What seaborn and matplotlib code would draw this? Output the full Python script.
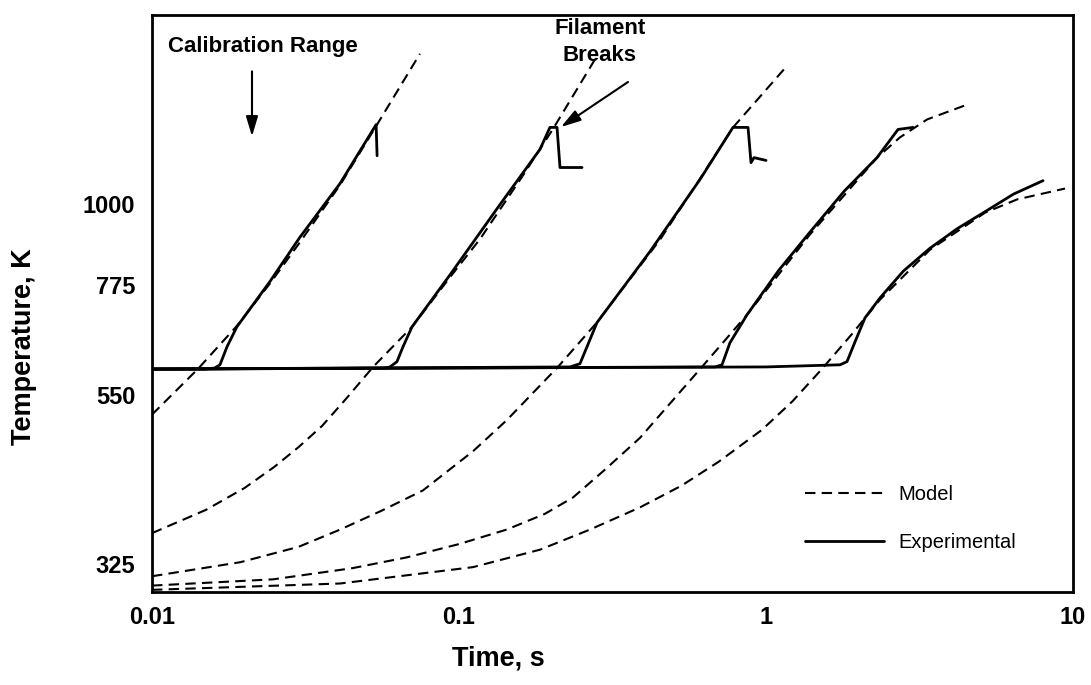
import numpy as np
import pandas as pd
import matplotlib
matplotlib.use("Agg")
import matplotlib.pyplot as plt
import seaborn as sns
from matplotlib.lines import Line2D
from matplotlib.ticker import FixedLocator, NullLocator, FixedFormatter

# ---------------- data ----------------
x_ticks = [0.01, 0.1, 1, 10]
x_tick_labels = ["0.01", "0.1", "1", "10"]
x_minor = [0.025, 0.04, 0.055, 0.07, 0.085, 0.25, 0.4, 0.55, 0.7, 0.85,
           2.5, 4, 5.5, 7, 8.5]
y_ticks = [325, 550, 775, 1000]
y_tick_labels = ["325", "550", "775", "1000"]

model1_t = [0.0100, 0.0141, 0.0189, 0.0242, 0.0303, 0.0410, 0.0537, 0.0746]
model1_T = [518, 597, 683, 779, 886, 1060, 1273, 1595]

model2_t = [0.0100, 0.0150, 0.0200, 0.0250, 0.0300, 0.0358, 0.0430, 0.0525,
            0.0703, 0.0935, 0.117, 0.160, 0.2024, 0.2836]
model2_T = [358, 385, 412, 440, 468, 500, 545, 601, 681, 795, 895, 1085, 1262, 1592]

model3_t = [0.0100, 0.0194, 0.0300, 0.0410, 0.0560, 0.0763, 0.111, 0.143, 0.210,
            0.281, 0.452, 0.600, 0.781, 1.153]
model3_T = [313, 327, 343, 362, 384, 409, 462, 509, 601, 690, 894, 1070, 1268, 1525]

model4_t = [0.0100, 0.0248, 0.0450, 0.0677, 0.100, 0.143, 0.190, 0.235, 0.300, 0.389,
            0.490, 0.610, 0.867, 1.39, 2.30, 2.73, 3.35, 4.45]
model4_T = [304, 310, 321, 332, 346, 362, 380, 400, 437, 482, 538, 597, 707, 908,
            1154, 1229, 1300, 1358]

model5_t = [0.0100, 0.0410, 0.111, 0.1835, 0.267, 0.389, 0.530, 0.70, 0.97, 1.22,
            1.52, 1.90, 2.35, 3.42, 5.17, 6.57, 9.42]
model5_T = [300, 306, 322, 340, 362, 388, 415, 447, 494, 540, 597, 665, 741, 866,
            972, 1013, 1048]

exp1_t = [0.0100, 0.0149, 0.0160, 0.01665, 0.01755, 0.0189, 0.0242, 0.0303, 0.0410,
          0.0537, 0.0541]
exp1_T = [597, 597, 599, 605, 640, 681, 784, 900, 1065, 1279, 1161]

exp2_t = [0.0100, 0.0574, 0.0596, 0.0628, 0.0657, 0.0703, 0.0935, 0.136, 0.1835,
          0.1978, 0.2086, 0.2133, 0.2516]
exp2_T = [597, 599, 601, 611, 640, 681, 801, 997, 1184, 1268, 1268, 1119, 1119]

exp3_t = [0.0100, 0.230, 0.2477, 0.2612, 0.2814, 0.4188, 0.6096, 0.7806, 0.8739,
          0.8936, 0.9139, 1.000]
exp3_T = [597, 601, 607, 640, 690, 861, 1078, 1268, 1268, 1136, 1154, 1144]

exp4_t = [0.0100, 0.6823, 0.719, 0.763, 0.867, 1.100, 1.391, 1.800, 2.299, 2.692, 3.012]
exp4_T = [597, 601, 605, 648, 707, 812, 915, 1040, 1154, 1260, 1268]

exp5_t = [0.0100, 0.100, 1.000, 1.742, 1.836, 1.95, 2.10, 2.35, 2.80, 3.42, 4.20,
          5.17, 6.40, 7.985]
exp5_T = [597, 599, 601, 605, 611, 650, 700, 745, 810, 870, 925, 975, 1030, 1074]

models = {"m1": (model1_t, model1_T), "m2": (model2_t, model2_T),
          "m3": (model3_t, model3_T), "m4": (model4_t, model4_T),
          "m5": (model5_t, model5_T)}
exps = {"e1": (exp1_t, exp1_T), "e2": (exp2_t, exp2_T), "e3": (exp3_t, exp3_T),
        "e4": (exp4_t, exp4_T), "e5": (exp5_t, exp5_T)}


def to_long(d):
    rows = []
    for k, (ts, Ts) in d.items():
        for i, (a, b) in enumerate(zip(ts, Ts)):
            rows.append({"curve": k, "order": i, "t": a, "T": b})
    return pd.DataFrame(rows)


df_model = to_long(models)
df_exp = to_long(exps)

# ---------------- style ----------------
sns.set_theme(style="white")
plt.rcParams["font.family"] = ["Liberation Sans", "DejaVu Sans"]
for key in ["text.color", "axes.labelcolor", "xtick.color", "ytick.color",
            "axes.edgecolor"]:
    plt.rcParams[key] = "black"

fig = plt.figure(figsize=(10.91, 6.85), dpi=100)
ax = fig.add_axes([152 / 1091, 1 - 592 / 685, 921 / 1091, 577 / 685])

sns.lineplot(data=df_model, x="t", y="T", units="curve", estimator=None,
             sort=False, color="black", lw=1.5, linestyle=(0, (5, 3)), ax=ax,
             legend=False)
sns.lineplot(data=df_exp, x="t", y="T", units="curve", estimator=None,
             sort=False, color="black", lw=2.0, ax=ax, legend=False)

ax.set_xscale("log")
ax.set_yscale("log")
ax.set_xlim(0.01, 10)
ax.set_ylim(298, 1800)

ax.xaxis.set_major_locator(FixedLocator(x_ticks))
ax.xaxis.set_major_formatter(FixedFormatter(x_tick_labels))
ax.xaxis.set_minor_locator(FixedLocator(x_minor))
ax.xaxis.set_minor_formatter(FixedFormatter([""] * len(x_minor)))
ax.yaxis.set_major_locator(FixedLocator(y_ticks))
ax.yaxis.set_major_formatter(FixedFormatter(y_tick_labels))
ax.yaxis.set_minor_locator(NullLocator())

ax.tick_params(axis="x", which="major", direction="in", length=9, width=1.5,
               labelsize=17, pad=10, colors="black")
ax.tick_params(axis="y", which="major", direction="in", length=9, width=1.5,
               labelsize=17, pad=12, colors="black")
ax.tick_params(axis="x", which="minor", direction="in", length=5, width=1.2,
               colors="black")
for lab in ax.get_xticklabels() + ax.get_yticklabels():
    lab.set_fontweight("bold")

for s in ax.spines.values():
    s.set_linewidth(2)
    s.set_color("black")

ax.set_xlabel("Time, s", fontsize=19.5, fontweight="bold", color="black")
ax.set_ylabel("Temperature, K", fontsize=19.5, fontweight="bold", color="black")
ax.xaxis.set_label_coords((498 - 152) / 921, (592 - 646) / 577)
ax.yaxis.set_label_coords((37 - 152) / 921, (592 - 347) / 577)

# annotations
ax.text((168 - 152) / 921, (592 - 46) / 577, "Calibration Range",
        transform=ax.transAxes, fontsize=16, fontweight="bold",
        ha="left", va="center", color="black")
ax.annotate("", xy=(0.02117, 1233), xytext=(0.02117, 1510),
            arrowprops=dict(arrowstyle="-|>,head_length=1.0,head_width=0.3",
                            color="black", lw=1.5, shrinkA=0, shrinkB=0))
ax.text((600 - 152) / 921, (592 - 42) / 577, "Filament\nBreaks",
        transform=ax.transAxes, fontsize=16, fontweight="bold",
        ha="center", va="center", linespacing=1.35, color="black")
ax.annotate("", xy=((561 - 152) / 921, (592 - 127) / 577),
            xytext=((628 - 152) / 921, (592 - 82) / 577),
            xycoords="axes fraction", textcoords="axes fraction",
            arrowprops=dict(arrowstyle="-|>,head_length=1.0,head_width=0.3",
                            color="black", lw=1.5, shrinkA=0, shrinkB=0))

handles = [Line2D([], [], color="black", lw=1.5, linestyle=(0, (5, 3))),
           Line2D([], [], color="black", lw=2.0)]
leg = ax.legend(handles, ["Model", "Experimental"], frameon=False, loc="center left",
                bbox_to_anchor=((805 - 152) / 921, (592 - 518.5) / 577),
                handlelength=3.9, handletextpad=0.75, labelspacing=1.45,
                fontsize=14.5, borderpad=0, borderaxespad=0)
for t in leg.get_texts():
    t.set_color("black")

fig.savefig("out.png", dpi=100)
